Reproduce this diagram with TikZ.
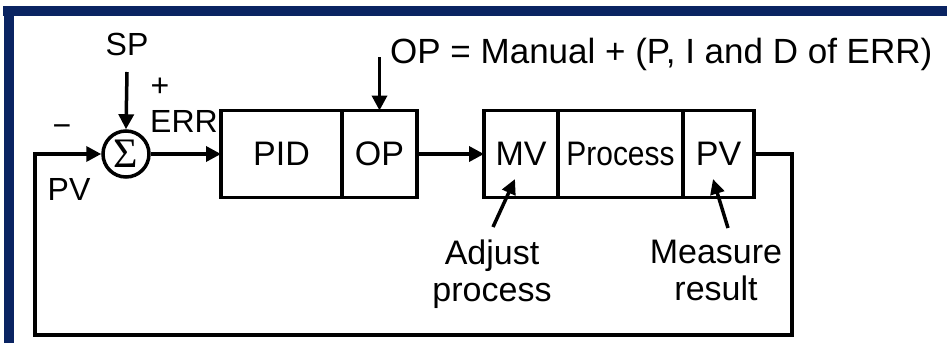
\documentclass[tikz,border=0pt]{standalone}
\usepackage{fontspec}
\setmainfont{Liberation Sans}
\newfontfamily\sigmafont{Liberation Serif}
\usetikzlibrary{arrows.meta,positioning}
\definecolor{framenavy}{HTML}{0A2462}

\begin{document}
\begin{tikzpicture}[x=1pt, y=-1pt,
  every node/.style={align=center, inner sep=0pt},
  big/.style={font=\fontsize{34}{37}\selectfont},
  small/.style={font=\fontsize{32}{34}\selectfont},
  block/.style={draw, line width=3.5pt, outer sep=0pt, minimum height=87pt, big},
  flow/.style={line width=3.5pt, -{Triangle[length=15pt,width=15pt]}},
  pointer/.style={line width=3.5pt, -{Triangle[length=15pt,width=14pt]}}]
  \useasboundingbox (0,0) rectangle (947,343);
  \fill[white] (0,0) rectangle (947,343);
  % slide frame, only the top and left edges are visible
  \fill[framenavy] (3,6) rectangle (947,16);
  \fill[framenavy] (4,6) rectangle (14,343);

  % summing junction
  \node[draw, circle, line width=3.5pt, minimum size=46pt,
        font=\sigmafont\fontsize{42}{42}\selectfont] (sum) at (126,154) {Σ};
  \node[small, anchor=base] (sp) at (127,55) {SP};
  \node[small] (plus) at (160,87) {+};
  \node[small] (minus) at (62,131) {−};
  \node[small, anchor=base] (err) at (184,132) {ERR};
  \node[small, anchor=base] (pvlbl) at (69,200) {PV};

  % controller and process blocks
  \node[block, minimum width=121pt] (pid) at (281.5,154) {PID};
  \node[block, minimum width=75pt, right=0pt of pid] (op) {OP};
  \node[block, minimum width=74pt] (mv) at (521,154) {MV};
  \node[block, minimum width=125pt, right=0pt of mv] (proc) {\scalebox{0.88}[1]{Process}};
  \node[block, minimum width=71pt, right=0pt of proc] (pv) {PV};

  \node[font=\fontsize{35}{38}\selectfont, anchor=base west] (eq) at (390,63)
    {OP = Manual + (P, I and D of ERR)};
  \node[big, anchor=north] (adj) at (492,240) {Adjust\\process};
  \node[big, anchor=north] (meas) at (716,240) {Measure\\result};

  \coordinate (opin) at (379.5,57);
  \coordinate (mvtip) at (515,179);
  \coordinate (pvtip) at (713,179);
  \coordinate (loopR) at (792,335);
  \coordinate (loopL) at (35,335);

  \draw[flow] (sp.base) ++(0,17) -- (sum.north);
  \draw[flow] (sum.east) -- (pid.west);
  \draw[flow] (opin) -- (op.north);
  \draw[flow] (op.east) -- (mv.west);
  \draw[flow] (pv.east) -| (loopR) -- (loopL) |- (sum.west);
  \draw[pointer] (adj.north) ++(1,-13) -- (mvtip);
  \draw[pointer] (meas.north) ++(12,-12) -- (pvtip);
\end{tikzpicture}
\end{document}
